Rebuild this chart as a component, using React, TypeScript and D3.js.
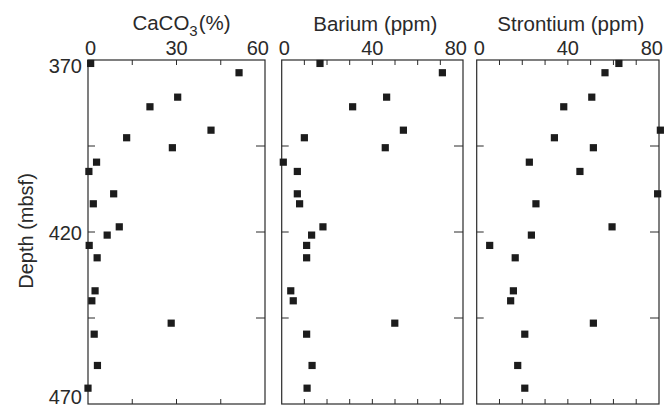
import React from "react";
import * as d3 from "d3";

const depths = [371, 373.7, 380.8, 383.6, 390.4, 392.6, 395.5, 399.7, 402.4, 408.9, 411.8, 418.5, 420.9, 423.9, 427.5, 437.1, 440, 446.5, 449.7, 458.8, 465.4];
const caco3 = [0.9, 51.2, 30.4, 21, 41.7, 13.1, 28.6, 2.9, 0.3, 8.7, 1.8, 10.6, 6.5, 0.4, 3.1, 2.4, 1.3, 28.2, 2.1, 3.2, 0];
const barium = [16.9, 70.9, 46.3, 31.3, 53.7, 10, 45.7, 0.7, 6.9, 6.9, 7.9, 18.2, 13.2, 11, 11, 4, 5.1, 49.9, 11, 13.4, 11.2];
const strontium = [62.4, 56.3, 50.5, 38.2, 80.6, 34.1, 51.2, 23.1, 45.3, 79.4, 26, 59.4, 24, 5.7, 16.9, 16.1, 14.9, 51.2, 21.1, 18, 21.1];

const depthDomain = [370, 470];
const depthTicks = [370, 395, 420, 445, 470];
const depthLabels = [370, 420, 470];

const panelTitles = ["CaCO3", "Barium (ppm)", "Strontium (ppm)"];
const panelMax = [60, 80, 80];
const panelTicks = [[0, 15, 30, 45, 60], [0, 10, 20, 30, 40, 50, 60, 70, 80], [0, 10, 20, 30, 40, 50, 60, 70, 80]];
const panelLabels = [[0, 30, 60], [0, 40, 80], [0, 40, 80]];

const W = 667, H = 407;
const top = 60, bottom = 404;
const panelX = [[88, 265], [281.7, 463], [476.7, 659]];
const FONT = "'Liberation Sans', Arial, Helvetica, sans-serif";
const INK = "#2a2a2a";

export default function App() {
  const y = d3.scaleLinear().domain(depthDomain).range([top, bottom]);
  const series = [caco3, barium, strontium];
  return (
    <svg width={W} height={H} style={{ position: "absolute", left: 0, top: 0, background: "#fff" }} fontFamily={FONT}>
      <rect width={W} height={H} fill="#fff" />
      <text transform={`translate(33,231) rotate(-90)`} textAnchor="middle" fontSize={20} fill={INK}>Depth (mbsf)</text>
      {depthLabels.map((d, i) => {
        const dy = i === 0 ? 13 : i === depthLabels.length - 1 ? -0.5 : 7.5;
        return (
          <text key={d} x={82} y={y(d) + dy} textAnchor="end" fontSize={20} fill={INK}>{d}</text>
        );
      })}
      {series.map((vals, p) => {
        const [x0, x1] = panelX[p];
        const x = d3.scaleLinear().domain([0, panelMax[p]]).range([x0, x1]);
        const labs = panelLabels[p];
        return (
          <g key={p}>
            {p === 0 ? (
              <text x={(x0 + x1) / 2 + 5} y={30} textAnchor="middle" fontSize={20.5} fill={INK}>
                CaCO<tspan dy={6} fontSize={15}>3</tspan><tspan dy={-6} dx={1}>(%)</tspan>
              </text>
            ) : (
              <text x={(x0 + x1) / 2 + 3} y={31} textAnchor="middle" fontSize={20.5} fill={INK}>{panelTitles[p]}</text>
            )}
            {labs.map((v, i) => {
              const anchor = i === 0 ? "start" : i === labs.length - 1 ? "end" : "middle";
              const dx = i === 0 ? -3 : i === labs.length - 1 ? 4 : 0;
              return (
                <text key={v} x={x(v) + dx} y={55} textAnchor={anchor} fontSize={20} fill={INK}>{v}</text>
              );
            })}
            <rect x={x0} y={top} width={x1 - x0} height={bottom - top} fill="none" stroke={INK} strokeWidth={1.2} />
            {panelTicks[p].slice(1, -1).map((v) => (
              <g key={v}>
                <line x1={x(v)} x2={x(v)} y1={top} y2={top + 5} stroke={INK} strokeWidth={1} />
                <line x1={x(v)} x2={x(v)} y1={bottom} y2={bottom - 5} stroke={INK} strokeWidth={1} />
              </g>
            ))}
            {depthTicks.slice(1, -1).map((d) => (
              <g key={d}>
                <line x1={x0} x2={x0 + 7} y1={y(d)} y2={y(d)} stroke={INK} strokeWidth={1} />
                <line x1={x1} x2={x1 - 9} y1={y(d)} y2={y(d)} stroke={INK} strokeWidth={1} />
              </g>
            ))}
            {vals.map((v, i) => (
              <rect key={i} x={x(v) - 3.6} y={y(depths[i]) - 3.6} width={7.2} height={7.2} fill="#1c1c1c" />
            ))}
          </g>
        );
      })}
    </svg>
  );
}
